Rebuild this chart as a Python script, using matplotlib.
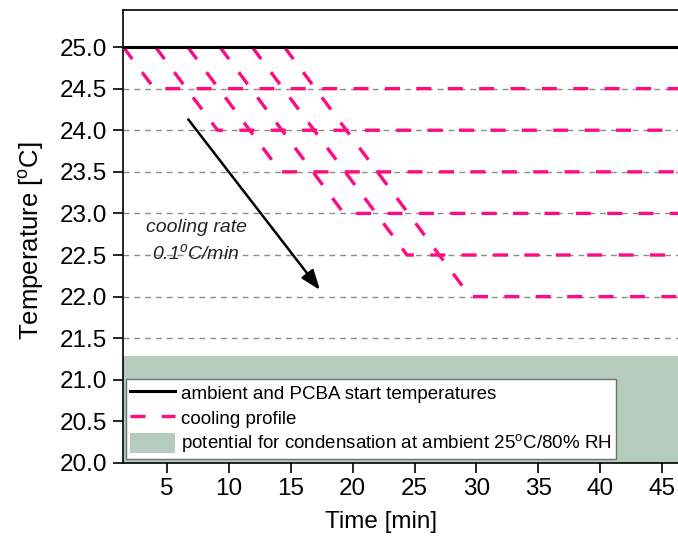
import matplotlib
matplotlib.use('Agg')
import matplotlib.pyplot as plt
from matplotlib.ticker import FormatStrFormatter

plt.rcParams['font.family'] = ['Liberation Sans', 'DejaVu Sans']
plt.rcParams['lines.scale_dashes'] = False

# data
ambient_temp = 25.0
start_times = [1.5, 4.1, 6.7, 9.3, 11.9, 14.5]     # cooling starts at 25.0
corner_times = [4.0, 9.1, 14.2, 19.3, 24.4, 29.5]  # target reached
end_temps = [24.5, 24.0, 23.5, 23.0, 22.5, 22.0]
t_max = 47.0
grid_levels = [21.5, 22.0, 22.5, 23.0, 23.5, 24.0, 24.5]
condensation_top = 21.29
x_ticks = [5, 10, 15, 20, 25, 30, 35, 40, 45]
y_ticks = [20.0, 20.5, 21.0, 21.5, 22.0, 22.5, 23.0, 23.5, 24.0, 24.5, 25.0]

pink = '#ff0a82'
green = '#b5cbbd'

fig = plt.figure(figsize=(6.78, 5.36), dpi=100)
ax = fig.add_axes([0.181, 0.1362, (683 - 122.7) / 678, 0.8451])
ax.set_xlim(1.45, 1.45 + (683 - 122.7) / 12.39)
ax.set_ylim(20.0, 25.445)

# zone where condensation can occur
cond = ax.axhspan(20.0, condensation_top, color=green, lw=0, zorder=1,
                  label='potential for condensation at ambient 25$^\\mathregular{o}$C/80% RH')

# grey dashed reference lines
for lvl in grid_levels:
    ax.axhline(lvl, color='#8c8c8c', lw=1.0, dashes=(4.2, 3.6), zorder=2)

# cooling profiles
for i in range(len(start_times)):
    xs = [start_times[i], corner_times[i], t_max]
    ys = [ambient_temp, end_temps[i], end_temps[i]]
    ax.plot(xs, ys, color=pink, lw=2.4, dashes=(10.8, 11.8), zorder=3,
            label='cooling profile' if i == 0 else None)

# ambient / start temperature
ax.axhline(ambient_temp, color='black', lw=2.2, zorder=4,
           label='ambient and PCBA start temperatures')

# cooling rate arrow
ax.annotate('', xy=(17.37, 22.08), xytext=(6.74, 24.13),
            arrowprops=dict(arrowstyle='-|>,head_length=1.2,head_width=0.45',
                            color='black', lw=1.8, shrinkA=0, shrinkB=0),
            zorder=5)
ax.text(7.37, 22.83, 'cooling rate', style='italic', fontsize=14,
        ha='center', va='center', color='#222222')
ax.text(7.37, 22.52, '0.1$^\\mathregular{o}$C/min', style='italic', fontsize=14,
        ha='center', va='center', color='#222222')

ax.set_xticks(x_ticks)
ax.set_yticks(y_ticks)
ax.yaxis.set_major_formatter(FormatStrFormatter('%.1f'))
ax.tick_params(direction='out', length=7, width=1.2, labelsize=17.5, pad=4)
for s in ax.spines.values():
    s.set_linewidth(1.2)

ax.set_xlabel('Time [min]', fontsize=17.5)
ax.xaxis.set_label_coords((381 - 122.7) / (683 - 122.7), -(522 - 463) / 453, transform=ax.transAxes)
ax.set_ylabel('Temperature [$^\\mathregular{o}$C]', fontsize=18.5)
ax.yaxis.set_label_coords(-(122.7 - 31) / (683 - 122.7), 0.49, transform=ax.transAxes)
ax.xaxis.label.set_va('center')
ax.yaxis.label.set_va('center')

handles, labels = ax.get_legend_handles_labels()
order = ['ambient and PCBA start temperatures', 'cooling profile', cond.get_label()]
hl = dict(zip(labels, handles))
leg = ax.legend([hl[o] for o in order], order, loc='lower left',
                bbox_to_anchor=(0.006, 0.008), borderaxespad=0, fontsize=13.5,
                frameon=True, fancybox=False, edgecolor='#707070',
                framealpha=1, handlelength=2.4, handletextpad=0.3,
                labelspacing=0.25, borderpad=0.22, handleheight=1.25)
leg.get_frame().set_linewidth(1.0)

fig.savefig('out.png', dpi=100)
